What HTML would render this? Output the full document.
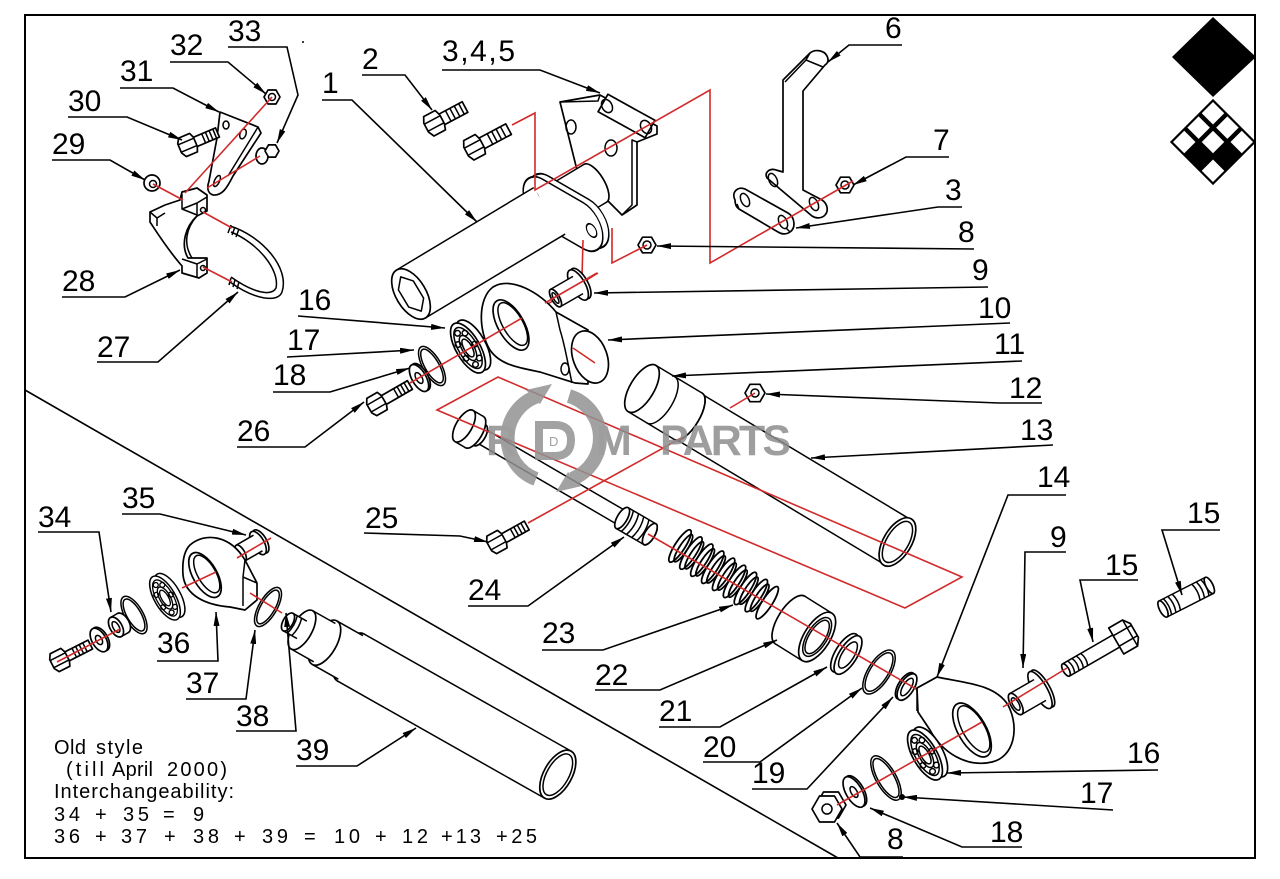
<!DOCTYPE html>
<html><head><meta charset="utf-8">
<style>
html,body{margin:0;padding:0;background:#fff;}
svg{display:block}
.p{fill:#fff;stroke:#000;stroke-width:1.7;stroke-linejoin:round}
.l{fill:none;stroke:#000;stroke-width:1.5;stroke-linejoin:round}
.f{fill:#fff;stroke:none}
.r{fill:none;stroke:#d22a2a;stroke-width:1.6}
.ld{fill:none;stroke:#000;stroke-width:1.6;marker-end:url(#a)}
.t{font-family:"Liberation Sans",sans-serif;font-size:30px;fill:#000}
.n{font-family:"Liberation Sans",sans-serif;font-size:20px;fill:#000}
.w{font-family:"Liberation Sans",sans-serif;font-weight:bold;font-size:43px;fill:#8e8e8e}
</style></head><body>
<svg width="1280" height="879" viewBox="0 0 1280 879" xmlns="http://www.w3.org/2000/svg">
<defs>
<marker id="a" viewBox="0 0 14 6" refX="14" refY="3" markerWidth="14" markerHeight="6" orient="auto" markerUnits="userSpaceOnUse"><path d="M0,0L14,3L0,6z" fill="#000"/></marker>
</defs>
<rect x="0" y="0" width="1280" height="879" fill="#fff"/>
<rect x="25" y="15" width="1230" height="843" fill="none" stroke="#000" stroke-width="2"/>
<line x1="25" y1="390" x2="838" y2="858" stroke="#000" stroke-width="1.6"/>
<circle cx="303" cy="42" r="1" fill="#000"/>

<!-- logo -->
<polygon points="1213,17 1256,57 1213,97 1172,57" fill="#000"/>
<g transform="translate(1213 142) rotate(45)">
<rect x="-30.5" y="-30.5" width="61" height="61" fill="#000"/>
<rect x="-28.3" y="-28.3" width="15.9" height="15.9" fill="#fff"/>
<rect x="-7.97" y="-28.3" width="15.9" height="15.9" fill="#fff"/>
<rect x="12.36" y="-28.3" width="15.9" height="15.9" fill="#fff"/>
<rect x="-28.3" y="-7.97" width="15.9" height="15.9" fill="#fff"/>
<rect x="-7.97" y="-7.97" width="15.9" height="15.9" fill="#fff"/>
<rect x="-28.3" y="12.36" width="15.9" height="15.9" fill="#fff"/>
<rect x="12.36" y="12.36" width="15.9" height="15.9" fill="#fff"/>
</g>

<!-- ============ TOP-LEFT BRACKET GROUP ============ -->
<path class="p" d="M150,212 L165,205 L180,200 L182,192 L197,188 L207,195 L207,211 L197,216 C186,226 180,244 188,258 L207,258 L207,273 L199,278 L182,273 L182,266 C168,250 158,234 150,222 Z"/>
<path class="l" d="M182,194 L182,209 L197,215 M182,209 L197,203 L207,197 M197,203 L197,215 M182,259 L197,264 L207,259 M197,264 L197,278 M150,212 L157,218 L165,213 M157,218 L157,226 M197,216 C186,228 183,244 192,258"/>
<circle class="l" cx="203" cy="210" r="2.5"/>
<circle class="l" cx="203" cy="268" r="2.5"/>
<path class="l" d="M230,226 C262,236 290,268 282,292 C278,303 255,300 230,282"/>
<path class="l" d="M231,232 C258,243 280,270 276,288 C272,296 255,294 231,277"/>
<path class="l" d="M231,225 l-3,8 M235,227 l-3,8 M239,229 l-3,8 M231,278 l-2,7 M235,280 l-2,7 M239,282 l-2,7"/>
<path class="p" d="M220,112 L258,127 L261,133 L233,176 C227,188 222,196 213,195 C207,193 207,187 209,181 L217,138 Z"/>
<path class="l" d="M258,127 L255,132 L228,176"/>
<ellipse class="l" cx="226" cy="125" rx="3" ry="4"/>
<ellipse class="l" cx="243" cy="134" rx="3" ry="5" transform="rotate(20 243 134)"/>
<ellipse class="l" cx="217" cy="181" rx="2.5" ry="6" transform="rotate(25 217 181)"/>
<polygon class="p" points="280,97 276,104 268,104 264,97 268,90 276,90"/>
<circle class="l" cx="272" cy="97" r="3.5"/>
<ellipse class="p" cx="262" cy="156" rx="6" ry="8"/>
<polygon class="p" points="279,151 275.5,157.1 268.5,157.1 265,151 268.5,144.9 275.5,144.9"/>
<ellipse class="p" cx="152" cy="183" rx="8" ry="8"/>
<circle class="l" cx="153" cy="184" r="3.5"/>
<g transform="translate(188 145) rotate(-23)">
<rect class="p" x="0" y="-5" width="32" height="10"/>
<path class="l" d="M17,-5v10 M21,-5v10 M25,-5v10 M29,-5v10"/>
<path class="p" d="M-6,-10 L6,-10 L8,-5 L8,5 L6,10 L-6,10 L-9,5 L-9,-5 Z"/>
<path class="l" d="M-9,-4 H8 M-9,4 H8"/>
</g>
<path class="r" d="M272,97L185,193M153,184L183,200M260,156L207,188M203,212L232,228M203,267L232,282"/>

<!-- ============ TOP CENTER ============ -->
<g transform="translate(435 123) rotate(-28)">
<rect class="p" x="0" y="-6" width="34" height="12"/>
<path class="l" d="M15,-6v12 M20,-6v12 M25,-6v12 M30,-6v12"/>
<path class="p" d="M-7,-11 L6,-11 L8,-5 L8,5 L6,11 L-7,11 L-10,5 L-10,-5 Z"/>
<path class="l" d="M-10,-4 H8 M-10,4 H8"/>
</g>
<g transform="translate(475 147) rotate(-28)">
<rect class="p" x="0" y="-6" width="38" height="12"/>
<path class="l" d="M17,-6v12 M22,-6v12 M27,-6v12 M32,-6v12"/>
<path class="p" d="M-7,-11 L6,-11 L8,-5 L8,5 L6,11 L-7,11 L-10,5 L-10,-5 Z"/>
<path class="l" d="M-10,-4 H8 M-10,4 H8"/>
</g>
<polygon class="p" points="560,102 600,95 657,126 657,134 637,142 637,205 622,215 577,170"/>
<path class="l" d="M600,95 L598,101 L560,102 M637,142 L632,140 L632,205 L622,215"/>
<polygon class="p" points="607.9,94.3 654.9,120.3 645.1,137.7 598.1,111.7"/>
<ellipse class="l" cx="607" cy="106" rx="5" ry="7" transform="rotate(-30 607 106)"/>
<ellipse class="l" cx="646" cy="127" rx="5" ry="7" transform="rotate(-30 646 127)"/>
<ellipse class="l" cx="571" cy="127" rx="5" ry="7"/>
<ellipse class="l" cx="611" cy="148" rx="6" ry="8"/>
<g transform="translate(411 294) rotate(-31)">
<ellipse class="p" cx="215" rx="9" ry="22"/>
<rect class="f" x="168" y="-22" width="47" height="44"/>
<path class="l" d="M168,-22 H215 M168,22 H215"/>
</g>
<g transform="matrix(0.866 0.5 0 1 569 211)">
<rect class="p" x="-46" y="-23" width="92" height="46" rx="23" ry="23"/>
</g>
<g transform="matrix(0.866 0.5 0 1 563 214)">
<rect class="p" x="-46" y="-23" width="92" height="46" rx="23" ry="23"/>
<circle class="l" cx="-33" cy="0" r="6"/>
<circle class="l" cx="33" cy="0" r="6"/>
</g>
<g transform="translate(411 294) rotate(-31)">
<rect class="f" x="0" y="-28" width="160" height="56"/>
<path class="l" d="M0,-28 H160 M0,28 H163"/>
<ellipse class="p" cx="0" rx="15" ry="28"/>
<polygon class="l" points="8.7,10 0,20 -8.7,10 -8.7,-10 0,-20 8.7,-10"/>
</g>
<path class="p" d="M767,178 C764,172 770,168 776,170 L783,172 L783,80 L810,53 C815,49 824,50 827,56 C829,60 828,63 825,65 L803,91 L803,190 L822,200 C828,204 829,212 824,216 C820,219 815,218 812,216 Z"/>
<path class="l" d="M810,53 L806,60 L785,82 M806,60 L823,67"/>
<ellipse class="l" cx="773" cy="180" rx="4" ry="7" transform="rotate(-25 773 180)"/>
<ellipse class="l" cx="814" cy="204" rx="4" ry="7" transform="rotate(-25 814 204)"/>
<path class="p" d="M735,200 C731,192 738,186 745,189 L788,213 C795,217 796,228 790,232 C786,235 781,234 778,232 L739,209 C736,207 735,204 735,200 Z"/>
<path class="l" d="M739,209 L737,204 M790,232 L786,228"/>
<ellipse class="l" cx="745" cy="200" rx="4" ry="7" transform="rotate(-25 745 200)"/>
<ellipse class="l" cx="783" cy="222" rx="4" ry="7" transform="rotate(-25 783 222)"/>
<polygon class="p" points="854,185 849.5,192.8 840.5,192.8 836,185 840.5,177.2 849.5,177.2"/>
<circle class="l" cx="845" cy="185" r="4"/>
<polygon class="p" points="656,245 651.5,252.8 642.5,252.8 638,245 642.5,237.2 651.5,237.2"/>
<circle class="l" cx="647" cy="245" r="4"/>

<path class="r" d="M512,125 L535,113 L535,190 L710,90 L710,263 L853,181"/>
<path class="r" d="M583,240 L582,277 M543,307 L598,273 M612,228 L612,263 L647,245"/>

<g transform="translate(578 285) rotate(-30)">
<ellipse class="p" cx="3" rx="7" ry="17"/>
<ellipse class="p" cx="0" rx="7" ry="17"/>
<rect class="f" x="-26" y="-10" width="26" height="20"/>
<path class="l" d="M-26,-10 H0 M-26,10 H0"/>
<ellipse class="p" cx="-26" rx="4" ry="10"/>
<ellipse class="l" cx="-26" rx="2" ry="6"/>
</g>
<path class="p" d="M493,287 C510,276 540,292 556,312 L588,330 L588,384 L575,383 L540,372 C520,368 500,365 490,350 C478,330 478,298 493,287 Z"/>
<path class="l" d="M556,312 L560,330 C565,345 568,365 572,383"/>
<g transform="translate(590 357) rotate(-20)"><ellipse class="p" rx="17" ry="27"/></g>
<ellipse class="l" cx="565" cy="369" rx="4" ry="6"/>
<g transform="translate(511 325) rotate(-30)"><ellipse class="p" rx="13" ry="28"/><ellipse class="l" cx="2" rx="10" ry="24"/></g>
<g transform="translate(468 348) rotate(-30)">
<ellipse class="p" cx="6" rx="12" ry="28"/>
<ellipse class="p" rx="12" ry="28"/>
<ellipse class="l" rx="9.5" ry="23"/>
<ellipse class="l" rx="6" ry="14"/>
<ellipse class="l" rx="4" ry="10"/>
<g class="l"><circle cx="7.7" cy="0" r="2.8"/><circle cx="4.8" cy="14.4" r="2.8"/><circle cx="-1.7" cy="18" r="2.8"/><circle cx="-6.9" cy="8" r="2.8"/><circle cx="-6.9" cy="-8" r="2.8"/><circle cx="-1.7" cy="-18" r="2.8"/><circle cx="4.8" cy="-14.4" r="2.8"/></g>
</g>
<g transform="translate(432 366) rotate(-30)"><ellipse class="l" rx="9" ry="22"/><ellipse class="l" rx="7" ry="19"/></g>
<g transform="translate(419 378) rotate(-30)"><ellipse class="p" cx="2" rx="7" ry="15"/><ellipse class="p" rx="7" ry="15"/><ellipse class="l" rx="3" ry="6"/></g>
<g transform="translate(377 404) rotate(-30)">
<rect class="p" x="0" y="-5" width="38" height="10"/>
<path class="l" d="M22,-5v10 M26,-5v10 M30,-5v10 M34,-5v10"/>
<path class="p" d="M-6,-10 L6,-10 L8,-5 L8,5 L6,10 L-6,10 L-9,5 L-9,-5 Z"/>
<path class="l" d="M-9,-4 H8 M-9,4 H8"/>
</g>
<path class="r" d="M410,383 L522,318 M573,348 L595,363 M545,303 L597,273"/>

<!-- ============ CENTER ============ -->
<g transform="translate(642 388.5) rotate(31)">
<rect class="f" x="54" y="-26" width="244" height="52"/>
<path class="l" d="M54,-26 H298 M54,26 H298"/>
<ellipse class="p" cx="298" rx="14" ry="27"/>
<ellipse class="l" cx="298" rx="11" ry="23"/>
<ellipse class="l" cx="57" cy="22" rx="3" ry="5"/>
<ellipse class="p" cx="54" rx="11" ry="27"/>
<rect class="f" x="0" y="-27" width="54" height="54"/>
<path class="l" d="M0,-27 H54 M0,27 H54"/>
<path class="l" d="M54,-27 A11,27 0 0 1 54,27"/>
<path class="l" d="M22,-27 A12,27 0 0 1 22,27"/>
<ellipse class="p" cx="0" rx="12" ry="27"/>
</g>
<polygon class="p" points="765,393 760,401.7 750,401.7 745,393 750,384.3 760,384.3"/>
<circle class="l" cx="755" cy="393" r="4"/>
<g transform="translate(464 426) rotate(30.2)">
<rect class="f" x="14" y="-8" width="172" height="16"/>
<path class="l" d="M14,-8 H186 M14,8 H186"/>
<ellipse class="p" cx="215" rx="5" ry="12"/>
<rect class="f" x="183" y="-12" width="32" height="24"/>
<path class="l" d="M183,-12 H215 M183,12 H215 M189,-12 q4,12 0,24 M195,-12 q4,12 0,24 M201,-12 q4,12 0,24 M207,-12 q4,12 0,24"/>
<ellipse class="p" cx="215" rx="5" ry="12"/>
<ellipse class="p" cx="183" rx="5" ry="12"/>
<ellipse class="p" cx="18" rx="6" ry="12"/>
<ellipse class="p" cx="12" rx="8" ry="18"/>
<rect class="f" x="0" y="-18" width="12" height="36"/>
<path class="l" d="M0,-18 H12 M0,18 H12"/>
<ellipse class="p" cx="0" rx="8" ry="18"/>
</g>
<g transform="translate(497 542) rotate(-29)">
<rect class="p" x="0" y="-5" width="34" height="10"/>
<path class="l" d="M18,-5v10 M22,-5v10 M26,-5v10 M30,-5v10"/>
<path class="p" d="M-6,-10 L6,-10 L8,-5 L8,5 L6,10 L-6,10 L-9,5 L-9,-5 Z"/>
<path class="l" d="M-9,-4 H8 M-9,4 H8"/>
</g>
<g transform="translate(680 546) rotate(33)" class="l" style="stroke-width:1.8">
<ellipse cx="0" rx="5" ry="19"/><ellipse cx="4" rx="4" ry="16"/>
<ellipse cx="13" rx="5" ry="19"/><ellipse cx="17" rx="4" ry="16"/>
<ellipse cx="26" rx="5" ry="19"/><ellipse cx="30" rx="4" ry="16"/>
<ellipse cx="39" rx="5" ry="19"/><ellipse cx="43" rx="4" ry="16"/>
<ellipse cx="52" rx="5" ry="19"/><ellipse cx="56" rx="4" ry="16"/>
<ellipse cx="65" rx="5" ry="19"/><ellipse cx="69" rx="4" ry="16"/>
<ellipse cx="78" rx="5" ry="19"/><ellipse cx="82" rx="4" ry="16"/>
<ellipse cx="91" rx="5" ry="19"/><ellipse cx="95" rx="4" ry="16"/>
<ellipse cx="104" rx="5" ry="19"/>
</g>
<g transform="translate(790 620) rotate(32)">
<ellipse class="p" cx="0" rx="12" ry="28"/>
<rect class="f" x="0" y="-28" width="32" height="56"/>
<path class="l" d="M0,-28 H32 M0,28 H32"/>
<ellipse class="p" cx="32" rx="13" ry="28"/>
<ellipse class="l" cx="32" rx="10" ry="22"/>
<ellipse class="l" cx="32" rx="8" ry="19"/>
</g>
<g transform="translate(848 655) rotate(32)"><ellipse class="p" cx="-4" rx="9" ry="22"/><ellipse class="p" rx="9" ry="22"/><ellipse class="l" rx="6" ry="15"/></g>
<g transform="translate(879 672) rotate(32)"><ellipse class="l" rx="11" ry="25"/><ellipse class="l" rx="9" ry="22"/></g>
<g transform="translate(907 687) rotate(32)"><ellipse class="p" cx="-2" rx="7" ry="15"/><ellipse class="p" rx="7" ry="15"/><ellipse class="l" rx="4" ry="10"/></g>

<path class="r" d="M683,437 L528,523 M755,393 L730,408"/>
<polygon class="r" points="437,410 498,377 962,577 905,608"/>
<path class="r" d="M648,534 L918,690"/>

<!-- ============ RIGHT GROUP ============ -->
<path class="p" d="M917,688 L937,677 C965,683 995,684 1008,705 C1020,728 1014,757 992,762 C966,768 942,752 930,730 L918,712 Z"/>
<path class="l" d="M937,677 L917,688 L917,711"/>
<g transform="translate(972 730) rotate(-30)"><ellipse class="p" rx="14" ry="30"/><ellipse class="l" cx="2" rx="11" ry="26"/></g>
<g transform="translate(1040 690) rotate(-30)">
<ellipse class="p" cx="3" rx="7" ry="21"/>
<ellipse class="p" cx="0" rx="7" ry="21"/>
<rect class="f" x="-28" y="-12" width="28" height="24"/>
<path class="l" d="M-28,-12 H0 M-28,12 H0"/>
<ellipse class="p" cx="-28" rx="5" ry="12"/>
<ellipse class="l" cx="-28" rx="3" ry="7"/>
</g>
<g transform="translate(1066 670) rotate(-30)">
<rect class="f" x="0" y="-7" width="58" height="14"/>
<path class="l" d="M0,-7 H58 M0,7 H58 M6,-7 q3,7 0,14 M11,-7 q3,7 0,14 M16,-7 q3,7 0,14 M21,-7 q3,7 0,14"/>
<ellipse class="p" cx="0" rx="3" ry="7"/>
<path class="p" d="M58,-15 L74,-15 L79,-8 L79,8 L74,15 L58,15 Z"/>
<path class="l" d="M58,-6 H79 M58,6 H79 M74,-15 L74,15"/>
</g>
<g transform="translate(1163 609) rotate(-27)">
<rect class="f" x="0" y="-9" width="52" height="18"/>
<path class="l" d="M0,-9 H52 M0,9 H52 M5,-9 q3,9 0,18 M10,-9 q3,9 0,18 M15,-9 q3,9 0,18 M37,-9 q3,9 0,18 M42,-9 q3,9 0,18 M47,-9 q3,9 0,18"/>
<ellipse class="p" cx="0" rx="3.5" ry="9"/>
<ellipse class="p" cx="52" rx="3.5" ry="9"/>
</g>
<g transform="translate(925 755) rotate(-30)">
<ellipse class="p" cx="6" rx="12" ry="28"/>
<ellipse class="p" rx="12" ry="28"/>
<ellipse class="l" rx="9.5" ry="23"/>
<ellipse class="l" rx="6" ry="14"/>
<ellipse class="l" rx="4" ry="10"/>
<g class="l"><circle cx="7.7" cy="0" r="2.8"/><circle cx="4.8" cy="14.4" r="2.8"/><circle cx="-1.7" cy="18" r="2.8"/><circle cx="-6.9" cy="8" r="2.8"/><circle cx="-6.9" cy="-8" r="2.8"/><circle cx="-1.7" cy="-18" r="2.8"/><circle cx="4.8" cy="-14.4" r="2.8"/></g>
</g>
<g transform="translate(886 778) rotate(-30)"><ellipse class="l" rx="10" ry="25"/><ellipse class="l" rx="8" ry="22"/></g>
<circle cx="902" cy="797" r="3" fill="#000"/>
<g transform="translate(854 792) rotate(-30)"><ellipse class="p" cx="2" rx="8" ry="17"/><ellipse class="p" rx="8" ry="17"/><ellipse class="l" rx="3" ry="6"/></g>
<polygon class="p" points="846,805 838.5,818 823.5,818 816,805 823.5,792 838.5,792"/>
<polygon class="p" points="842,809 834.5,822 819.5,822 812,809 819.5,796 834.5,796"/>
<circle class="l" cx="827" cy="809" r="5"/>
<path class="r" d="M837,805 L982,722 M1003,707 L1067,668"/>

<!-- ============ LEFT OLD-STYLE GROUP ============ -->
<g transform="translate(288 622) rotate(29.5)">
<ellipse class="p" cx="72" rx="13" ry="27"/>
<rect class="f" x="72" y="-27" width="238" height="54"/>
<path class="l" d="M72,-27 H310 M72,27 H310"/>
<ellipse class="p" cx="310" rx="14" ry="27"/>
<ellipse class="l" cx="310" rx="11" ry="23"/>
<rect class="f" x="42" y="-25" width="30" height="50"/>
<path class="l" d="M42,-25 H72 M42,25 H72"/>
<ellipse class="p" cx="42" rx="12" ry="25"/>
<rect class="f" x="16" y="-22" width="26" height="44"/>
<path class="l" d="M16,-22 H42 M16,22 H42"/>
<ellipse class="p" cx="16" rx="10" ry="22"/>
<rect class="f" x="0" y="-10" width="16" height="20"/>
<path class="l" d="M0,-10 H16 M0,10 H16 M5,-10 q3,10 0,20 M10,-10 q3,10 0,20"/>
<ellipse class="p" cx="0" rx="5" ry="10"/>
</g>
<g transform="translate(258 543) rotate(-30)">
<ellipse class="p" cx="3" rx="6" ry="13"/>
<ellipse class="p" cx="0" rx="6" ry="13"/>
<rect class="f" x="-20" y="-9" width="20" height="18"/>
<path class="l" d="M-20,-9 H0 M-20,9 H0"/>
<ellipse class="p" cx="-20" rx="4" ry="9"/>
</g>
<path class="p" d="M190,545 C205,532 230,535 245,560 L257,583 L257,600 L245,610 L230,607 C205,605 185,595 183,575 C182,560 185,550 190,545 Z"/>
<path class="l" d="M245,560 L243,577 L243,606 M243,577 L257,583"/>
<g transform="translate(205 575) rotate(-30)"><ellipse class="p" rx="12" ry="25"/><ellipse class="l" cx="2" rx="9" ry="21"/></g>
<g transform="translate(268 607) rotate(30)"><ellipse class="l" rx="9" ry="22"/><ellipse class="l" rx="7" ry="19"/></g>
<g transform="translate(165 598) rotate(-30) scale(0.88)">
<ellipse class="p" cx="6" rx="12" ry="28"/>
<ellipse class="p" rx="12" ry="28"/>
<ellipse class="l" rx="9.5" ry="23"/>
<ellipse class="l" rx="6" ry="14"/>
<ellipse class="l" rx="4" ry="10"/>
<g class="l"><circle cx="7.7" cy="0" r="2.8"/><circle cx="4.8" cy="14.4" r="2.8"/><circle cx="-1.7" cy="18" r="2.8"/><circle cx="-6.9" cy="8" r="2.8"/><circle cx="-6.9" cy="-8" r="2.8"/><circle cx="-1.7" cy="-18" r="2.8"/><circle cx="4.8" cy="-14.4" r="2.8"/></g>
</g>
<g transform="translate(134 615) rotate(-30)"><ellipse class="l" rx="9" ry="21"/><ellipse class="l" rx="7" ry="18"/></g>
<g transform="translate(116 627) rotate(-30)">
<ellipse class="p" cx="8" rx="6" ry="11"/>
<rect class="f" x="0" y="-11" width="8" height="22"/>
<path class="l" d="M0,-11 H8 M0,11 H8"/>
<ellipse class="p" cx="0" rx="6" ry="11"/>
<ellipse class="l" cx="0" rx="3" ry="6"/>
</g>
<g transform="translate(99 640) rotate(-30)"><ellipse class="p" cx="2" rx="7" ry="13"/><ellipse class="p" rx="7" ry="13"/><ellipse class="l" rx="3" ry="5"/></g>
<g transform="translate(60 660) rotate(-27)">
<rect class="p" x="0" y="-5" width="34" height="10"/>
<path class="l" d="M16,-5v10 M20,-5v10 M24,-5v10 M28,-5v10"/>
<path class="p" d="M-6,-10 L6,-10 L8,-5 L8,5 L6,10 L-6,10 L-9,5 L-9,-5 Z"/>
<path class="l" d="M-9,-4 H8 M-9,4 H8"/>
</g>
<path class="r" d="M57,662 L120,629 M182,588 L216,572 M237,558 L271,538 M250,593 L282,613"/>

<!-- ============ LEADERS ============ -->
<polyline class="ld" points="228,47 287,47 298,95 277,143"/>
<polyline class="ld" points="170,62 228,62 266,94"/>
<polyline class="ld" points="120,88 173,88 219,112"/>
<polyline class="ld" points="68,117 127,117 182,140"/>
<polyline class="ld" points="52,160 110,160 145,180"/>
<polyline class="ld" points="62,297 125,297 180,270"/>
<polyline class="ld" points="97,362 158,362 238,292"/>
<polyline class="ld" points="362,75 405,75 432,110"/>
<polyline class="ld" points="322,100 352,100 477,222"/>
<polyline class="ld" points="442,70 540,70 600,93"/>
<polyline class="ld" points="902,45 849,45 828,62"/>
<polyline class="ld" points="949,157 906,157 853,185"/>
<polyline class="ld" points="962,207 938,207 796,228"/>
<polyline class="ld" points="974,249 657,246"/>
<polyline class="ld" points="988,287 594,293"/>
<polyline class="ld" points="1010,323 608,340"/>
<polyline class="ld" points="1022,361 672,376"/>
<polyline class="ld" points="1042,403 999,403 766,394"/>
<polyline class="ld" points="1053,445 811,458"/>
<polyline class="ld" points="298,316 445,328"/>
<polyline class="ld" points="287,357 414,350"/>
<polyline class="ld" points="273,392 330,392 410,368"/>
<polyline class="ld" points="237,447 305,447 364,402"/>
<polyline class="ld" points="364,533 460,536 488,542"/>
<polyline class="ld" points="468,606 528,606 624,537"/>
<polyline class="ld" points="542,650 603,650 733,605"/>
<polyline class="ld" points="595,690 660,690 777,640"/>
<polyline class="ld" points="659,727 720,727 827,667"/>
<polyline class="ld" points="703,762 760,762 862,688"/>
<polyline class="ld" points="752,789 807,789 893,697"/>
<polyline class="ld" points="1066,495 1008,495 937,677"/>
<polyline class="ld" points="1066,552 1025,552 1023,668"/>
<polyline class="ld" points="1138,580 1080,580 1093,642"/>
<polyline class="ld" points="1220,530 1162,530 1182,595"/>
<polyline class="ld" points="1158,770 947,773"/>
<polyline class="ld" points="1113,810 903,797"/>
<polyline class="ld" points="1022,847 962,847 870,808"/>
<polyline class="ld" points="903,857 860,857 837,823"/>
<polyline class="ld" points="122,514 160,514 246,535"/>
<polyline class="ld" points="38,532 99,532 111,612"/>
<polyline class="ld" points="157,661 218,661 216,612"/>
<polyline class="ld" points="186,699 246,699 255,630"/>
<polyline class="ld" points="236,731 296,731 286,613"/>
<polyline class="ld" points="296,766 357,766 416,728"/>

<!-- ============ LABELS ============ -->
<g class="t">
<text x="228" y="41">33</text>
<text x="170" y="55">32</text>
<text x="120" y="81">31</text>
<text x="68" y="111">30</text>
<text x="52" y="154">29</text>
<text x="62" y="291">28</text>
<text x="97" y="357">27</text>
<text x="362" y="69">2</text>
<text x="322" y="93">1</text>
<text x="442" y="61" textLength="73">3,4,5</text>
<text x="885" y="38">6</text>
<text x="933" y="150">7</text>
<text x="945" y="200">3</text>
<text x="958" y="242">8</text>
<text x="972" y="280">9</text>
<text x="978" y="318">10</text>
<text x="994" y="354">11</text>
<text x="1009" y="398">12</text>
<text x="1020" y="440">13</text>
<text x="298" y="310">16</text>
<text x="287" y="350">17</text>
<text x="273" y="385">18</text>
<text x="237" y="441">26</text>
<text x="365" y="528">25</text>
<text x="468" y="600">24</text>
<text x="542" y="643">23</text>
<text x="595" y="685">22</text>
<text x="659" y="721">21</text>
<text x="703" y="757">20</text>
<text x="752" y="783">19</text>
<text x="1037" y="487">14</text>
<text x="1050" y="547">9</text>
<text x="1105" y="575">15</text>
<text x="1187" y="523">15</text>
<text x="1127" y="763">16</text>
<text x="1080" y="803">17</text>
<text x="990" y="842">18</text>
<text x="887" y="849">8</text>
<text x="122" y="508">35</text>
<text x="38" y="527">34</text>
<text x="157" y="653">36</text>
<text x="186" y="693">37</text>
<text x="236" y="726">38</text>
<text x="296" y="760">39</text>
</g>
<g class="n">
<text x="54" y="754" textLength="32">Old</text>
<text x="96" y="754" textLength="47">style</text>
<text x="66" y="776" textLength="38">(till</text>
<text x="112" y="776" textLength="41">April</text>
<text x="167" y="776" textLength="60">2000)</text>
<text x="54" y="798" textLength="180">Interchangeability:</text>
<text x="54" y="821" textLength="26">34</text>
<text x="95" y="821">+</text>
<text x="123" y="821" textLength="26">35</text>
<text x="163" y="821">=</text>
<text x="193" y="821">9</text>
<text x="54" y="843" textLength="26">36</text>
<text x="95" y="843">+</text>
<text x="121" y="843" textLength="26">37</text>
<text x="164" y="843">+</text>
<text x="193" y="843" textLength="26">38</text>
<text x="234" y="843">+</text>
<text x="262" y="843" textLength="26">39</text>
<text x="304" y="843">=</text>
<text x="334" y="843" textLength="26">10</text>
<text x="375" y="843">+</text>
<text x="402" y="843" textLength="26">12</text>
<text x="441" y="843" textLength="40">+13</text>
<text x="496" y="843" textLength="41">+25</text>
</g>

<!-- ============ WATERMARK ============ -->
<g opacity="0.85">
<path d="M538,396 A44,44 0 0 0 536,479" fill="none" stroke="#929292" stroke-width="14"/>
<path d="M569,396 A44,44 0 0 1 572,479" fill="none" stroke="#929292" stroke-width="14"/>
<polygon points="526,390 552,384 540,404" fill="#929292"/>
<polygon points="582,486 556,492 568,472" fill="#929292"/>
<path d="M539,425 L555,425 Q571,425 571,440 Q571,456 555,456 L539,456 Z" fill="none" stroke="#929292" stroke-width="8"/>
<text x="549" y="446" style="font-family:'Liberation Sans',sans-serif;font-size:13px;fill:#929292">D</text>
<text class="w" x="486" y="455">R</text>
<text class="w" x="596" y="455">M</text>
<text class="w" x="660" y="455" textLength="131">PARTS</text>
</g>
</svg>
</body></html>
